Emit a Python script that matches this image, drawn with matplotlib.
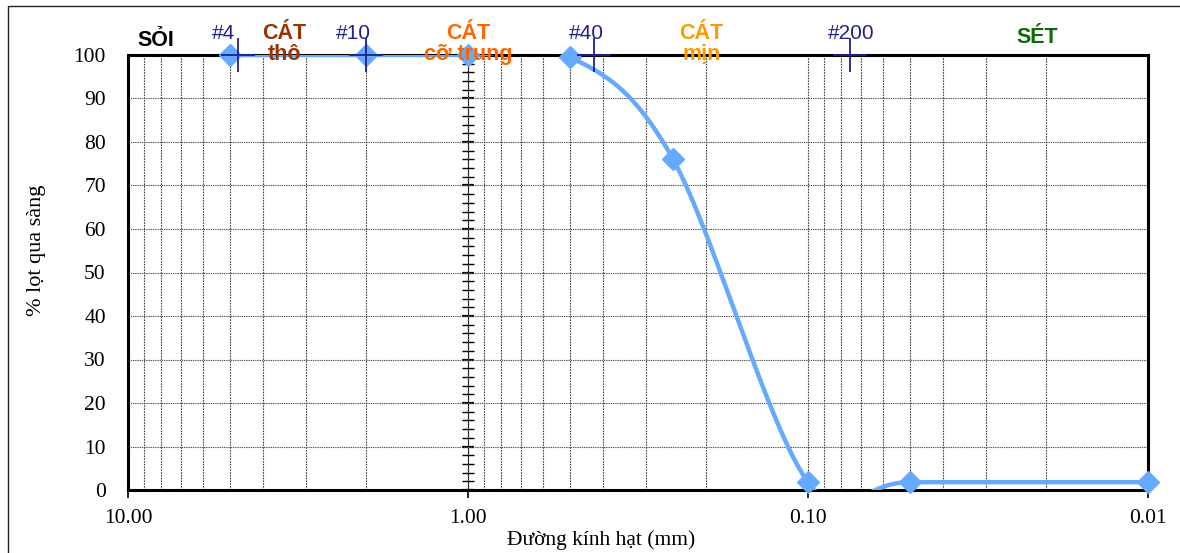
import numpy as np
import matplotlib
matplotlib.use("Agg")
import matplotlib.pyplot as plt
from matplotlib.patches import Rectangle
from matplotlib.ticker import FixedLocator, MultipleLocator, LogLocator, NullFormatter
from matplotlib.transforms import blended_transform_factory

# Số liệu thành phần hạt
duong_kinh = [5.0, 2.0, 1.0, 0.5, 0.25, 0.1, 0.05, 0.01]
phan_tram_lot = [100, 100, 100, 99.5, 76.2, 1.8, 1.8, 1.8]

# Các cỡ sàng
ten_sang = ['#4', '#10', '#40', '#200']
co_sang = [4.75, 2.0, 0.425, 0.075]
vi_tri_nhan_sang = [5.25, 2.17, 0.45, 0.0745]

# Nhóm đất ghi phía trên
nhom_dat = ['SỎI', 'CÁT\nthô', 'CÁT\ncỡ trung', 'CÁT\nmịn', 'SÉT']
vi_tri_nhom = [8.3, 3.47, 1.0, 0.206, 0.0212]
mau_nhom = ['black', '#993300', '#ff6600', '#ff9900', '#0b6b0b']

x_ticks = [10, 1, 0.1, 0.01]
x_ticklabels = ['10.00', '1.00', '0.10', '0.01']

LINE_COLOR = '#66aaff'
NAVY = '#202090'


def excel_smooth(xs, ys, n=60):
    """Đường cong Bezier kiểu Excel (Catmull-Rom) trong hệ log10(x)."""
    u = np.log10(xs)
    y = np.asarray(ys, dtype=float)
    P = np.column_stack([u, y])
    pts = []
    for i in range(len(P) - 1):
        p0 = P[i - 1] if i > 0 else P[i]
        p1, p2 = P[i], P[i + 1]
        p3 = P[i + 2] if i + 2 < len(P) else P[i + 1]
        c1 = p1 + (p2 - p0) / 6.0
        c2 = p2 - (p3 - p1) / 6.0
        t = np.linspace(0, 1, n)[:, None]
        seg = ((1 - t) ** 3) * p1 + 3 * ((1 - t) ** 2) * t * c1 \
            + 3 * (1 - t) * t ** 2 * c2 + t ** 3 * p2
        pts.append(seg if i == 0 else seg[1:])
    pts = np.vstack(pts)
    return 10 ** pts[:, 0], pts[:, 1]


fig = plt.figure(figsize=(11.8, 5.53), dpi=100)
ax = fig.add_axes([128 / 1180, 1 - 490 / 553, (1148 - 128) / 1180, 435 / 553])

ax.set_xscale('log')
ax.set_xlim(10, 0.01)
ax.set_ylim(0, 100)

# lưới
ax.xaxis.set_major_locator(FixedLocator(x_ticks))
ax.xaxis.set_minor_locator(LogLocator(base=10, subs=np.arange(2, 10)))
ax.xaxis.set_minor_formatter(NullFormatter())
ax.set_xticklabels(x_ticklabels)
ax.yaxis.set_major_locator(MultipleLocator(10))
ax.grid(True, which='major', axis='y', color='#555555', linestyle=(0, (1.2, 0.8)), linewidth=0.8)
ax.grid(True, which='both', axis='x', color='#444444', linestyle=(0, (1.5, 1.0)), linewidth=0.8)
ax.set_axisbelow(True)

ax.tick_params(axis='x', which='major', direction='out', length=6, width=1.2, pad=8,
               labelsize=15.5)
ax.tick_params(axis='x', which='minor', length=0)
ax.tick_params(axis='y', which='major', length=0, pad=16, labelsize=15.5)
for lab in ax.get_xticklabels() + ax.get_yticklabels():
    lab.set_fontfamily('Liberation Serif')
for sp in ax.spines.values():
    sp.set_linewidth(2.2)

# trục phụ tại x = 1.0
sec = ax.secondary_yaxis(1.0, transform=ax.transData)
sec.spines['left'].set_linewidth(1.2)
sec.yaxis.set_major_locator(MultipleLocator(10))
sec.yaxis.set_minor_locator(MultipleLocator(2))
sec.tick_params(which='both', labelleft=False, labelright=False)
sec.tick_params(which='major', direction='inout', length=9, width=1.6)
sec.tick_params(which='minor', direction='inout', length=8, width=1.0)

# đường cong cấp phối
xs, ys = excel_smooth(duong_kinh, phan_tram_lot)
ax.plot(xs, ys, color=LINE_COLOR, linewidth=3.2, zorder=3, solid_capstyle='butt')
ax.plot(duong_kinh, phan_tram_lot, linestyle='none', marker='D', markersize=11,
        color=LINE_COLOR, zorder=4, clip_on=False)

# cỡ sàng
ax.plot(co_sang, [100] * len(co_sang), linestyle='none', marker='+', markersize=24,
        markeredgewidth=1.3, color=NAVY, zorder=5, clip_on=False)

trans = blended_transform_factory(ax.transData, ax.transAxes)
for ten, xv in zip(ten_sang, vi_tri_nhan_sang):
    ax.text(xv, 1.05, ten, transform=trans, ha='center', va='center', color=NAVY,
            fontsize=15, fontfamily='Liberation Sans')

for ten, xv, c in zip(nhom_dat, vi_tri_nhom, mau_nhom):
    if '\n' in ten:
        ax.text(xv, 1.026, ten, transform=trans, ha='center', va='center', color=c,
                fontsize=15.5, fontweight='bold', fontfamily='Liberation Sans',
                linespacing=1.0, zorder=6)
    else:
        yv = 1.034 if ten == 'SỎI' else 1.041
        ax.text(xv, yv, ten, transform=trans, ha='center', va='center', color=c,
                fontsize=15.5, fontweight='bold', fontfamily='Liberation Sans')

ax.set_xlabel('Đường kính hạt (mm)', fontsize=15.5, fontfamily='Liberation Serif')
ax.xaxis.set_label_coords(0.464, -0.092)
ax.set_ylabel('% lọt qua sàng', fontsize=16, fontfamily='Liberation Serif')
ax.yaxis.set_label_coords(-0.08, 0.552)

# khung ngoài
fig.patches.append(Rectangle((8 / 1180, -0.1), 1.2, 1 - 6 / 553 + 0.1,
                             transform=fig.transFigure, fill=False,
                             edgecolor='#222222', linewidth=1.0))

fig.savefig('out.png', dpi=100)
